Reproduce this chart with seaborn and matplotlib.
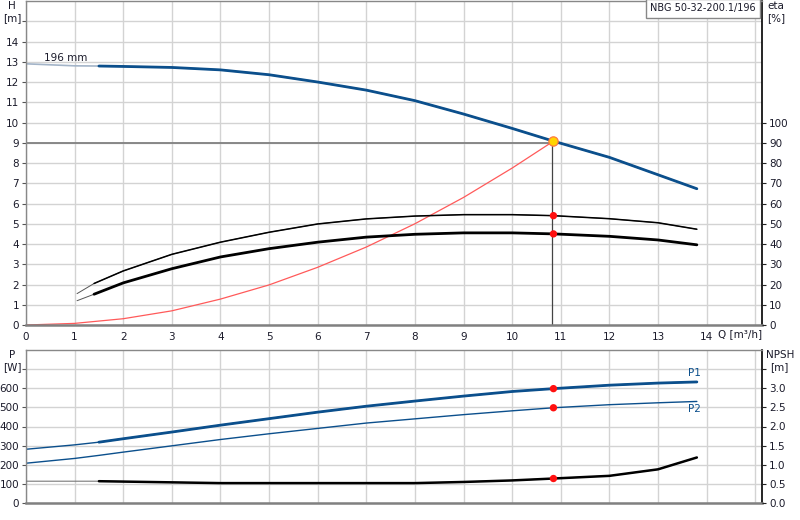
import matplotlib
matplotlib.use("Agg")
import matplotlib.pyplot as plt
import numpy as np
import seaborn as sns

# head curve H [m] over flow Q [m3/h]
h_q = [0, 1, 1.5, 2, 3, 4, 5, 6, 7, 8, 9, 10, 10.85, 12, 13, 13.8]
h_m = [12.9, 12.8, 12.79, 12.77, 12.72, 12.6, 12.36, 12.0, 11.6, 11.08, 10.42, 9.71, 9.08, 8.28, 7.42, 6.73]

# system curve (red)
sys_q = [0, 1, 2, 3, 4, 5, 6, 7, 8, 9, 10, 10.85]
sys_h = [0, 0.08, 0.31, 0.7, 1.28, 1.98, 2.85, 3.85, 5.0, 6.3, 7.75, 9.08]

# efficiencies [%]
eta_q = [1.05, 1.4, 2, 3, 4, 5, 6, 7, 8, 9, 10, 10.85, 12, 13, 13.8]
eta_pump = [15.5, 20.5, 26.7, 34.9, 40.9, 45.8, 49.9, 52.4, 53.8, 54.5, 54.5, 54.0, 52.5, 50.5, 47.3]
eta_total = [12.0, 15.2, 20.8, 27.8, 33.6, 37.7, 40.9, 43.4, 44.8, 45.5, 45.5, 45.0, 43.8, 42.0, 39.6]

# power [W]
p_q = [0, 1, 1.5, 2, 3, 4, 5, 6, 7, 8, 9, 10, 10.85, 12, 13, 13.8]
p1 = [281, 304, 318, 336, 371, 407, 441, 475, 506, 533, 559, 583, 598, 616, 627, 633]
p2 = [208, 233, 249, 266, 299, 332, 362, 390, 418, 440, 462, 482, 498, 514, 524, 531]

# NPSH [m]
npsh_q = [0, 1, 1.5, 2, 3, 4, 5, 6, 7, 8, 9, 10, 10.85, 12, 13, 13.8]
npsh_m = [0.57, 0.57, 0.57, 0.56, 0.54, 0.52, 0.52, 0.52, 0.52, 0.52, 0.55, 0.59, 0.64, 0.71, 0.88, 1.19]

# duty point
duty_q = 10.85
duty_h = 9.08
duty_eta = [54.0, 45.0]
duty_p = [598, 498]
duty_npsh = 0.64

EXTRAP_END = 1.5
BLUE = "#0b4f8c"
LIGHT_BLUE = "#a3b4c8"
GRID = "#d3d3d3"
TXT = "#1a1a2a"

sns.set_theme(style="whitegrid")
plt.rcParams["font.family"] = ["DejaVu Sans"]
plt.rcParams["font.size"] = 7.5

fig = plt.figure(figsize=(8, 5.2), dpi=100)
ax = fig.add_axes([26 / 800, 1 - 325 / 520, 736 / 800, 325 / 520 - 0.002])
ax2 = fig.add_axes([26 / 800, 17 / 520, 736 / 800, 153 / 520])

for a in (ax, ax2):
    a.set_facecolor("white")
    a.set_xlim(0, 15.14)
    a.set_xticks(range(0, 16))
    a.grid(True, color=GRID, lw=1.0)
    a.tick_params(axis="both", length=3, width=0.8, color="#555", labelsize=7.5,
                  labelcolor=TXT, pad=2, direction="out")
    for s in ("left", "top"):
        a.spines[s].set_color("#888")
        a.spines[s].set_linewidth(1.0)
    a.spines["bottom"].set_color("#808080")
    a.spines["bottom"].set_linewidth(1.8)
    a.spines["right"].set_color("black")
    a.spines["right"].set_linewidth(1.2)

# ---- upper: head / efficiency
ax.set_ylim(0, 16)
ax.set_yticks(range(0, 16))
ax.set_yticklabels([str(i) for i in range(0, 15)] + [""])
ax.set_xticklabels([str(i) for i in range(0, 15)] + [""])

h_q_arr = np.array(h_q)
h_arr = np.array(h_m)
sns.lineplot(x=h_q, y=h_m, ax=ax, color=LIGHT_BLUE, lw=1.2)
m = h_q_arr >= EXTRAP_END
sns.lineplot(x=h_q_arr[m], y=h_arr[m], ax=ax, color=BLUE, lw=2.0)
sns.lineplot(x=sys_q, y=sys_h, ax=ax, color="#ff5a5a", lw=0.9)

# duty point crosshair
ax.plot([0, duty_q], [9.0, 9.0], color="#808080", lw=1.3, zorder=1.5)
ax.plot([duty_q - 0.03, duty_q - 0.03], [0, duty_h], color="#444", lw=0.9, zorder=1.5)

ax.text(0.37, 13.2, "196 mm", fontsize=7.5, color=TXT, va="center")
ax.text(0.9915, 0.993, "NBG 50-32-200.1/196", transform=ax.transAxes, ha="right", va="top",
        fontsize=7, color=TXT,
        bbox=dict(boxstyle="square,pad=0.45", fc="white", ec="#888", lw=1.0), zorder=10)

axr = ax.twinx()
axr.set_ylim(0, 160)
axr.set_yticks(range(0, 101, 10))
axr.grid(False)
axr.tick_params(axis="y", length=3, width=0.8, color="#222", labelsize=7.5, labelcolor=TXT, pad=2)
for s in axr.spines.values():
    s.set_visible(False)

eq = np.array(eta_q)
ep = np.array(eta_pump)
et = np.array(eta_total)
sns.lineplot(x=eta_q, y=eta_pump, ax=axr, color="#555", lw=0.7)
sns.lineplot(x=eta_q, y=eta_total, ax=axr, color="#555", lw=0.7)
k = eq >= 1.4
sns.lineplot(x=eq[k], y=ep[k], ax=axr, color="black", lw=1.1)
sns.lineplot(x=eq[k], y=et[k], ax=axr, color="black", lw=2.0)
sns.scatterplot(x=[duty_q, duty_q], y=duty_eta, ax=axr, color="#ff1010", s=28,
                edgecolor="none", zorder=5)
sns.scatterplot(x=[duty_q], y=[duty_h * 10], ax=axr, color="#ffd400", s=45,
                edgecolor="#ff7a40", linewidth=0.9, zorder=6)
axr.set_xlim(0, 15.14)

# ---- lower: power / NPSH
ax2.set_ylim(0, 800)
ax2.set_yticks(range(0, 701, 100))
ax2.set_yticklabels([str(i) for i in range(0, 601, 100)] + [""])
ax2.tick_params(axis="x", labelbottom=False, length=0)

pq = np.array(p_q)
pm = pq >= EXTRAP_END
sns.lineplot(x=p_q, y=p1, ax=ax2, color=BLUE, lw=1.0)
sns.lineplot(x=pq[pm], y=np.array(p1)[pm], ax=ax2, color=BLUE, lw=2.0)
sns.lineplot(x=p_q, y=p2, ax=ax2, color=BLUE, lw=1.0)
sns.scatterplot(x=[duty_q, duty_q], y=duty_p, ax=ax2, color="#ff1010", s=28,
                edgecolor="none", zorder=5)
ax2.text(13.76, 680, "P1", color=BLUE, fontsize=7.5, ha="center", va="center")
ax2.text(13.76, 492, "P2", color=BLUE, fontsize=7.5, ha="center", va="center")

ax2r = ax2.twinx()
ax2r.set_ylim(0, 4)
ax2r.set_yticks(np.arange(0, 3.6, 0.5))
ax2r.set_yticklabels([f"{v:.1f}" for v in np.arange(0, 3.1, 0.5)] + [""])
ax2r.grid(False)
ax2r.tick_params(axis="y", length=3, width=0.8, color="#222", labelsize=7.5, labelcolor=TXT, pad=2)
for s in ax2r.spines.values():
    s.set_visible(False)
nq = np.array(npsh_q)
nm = nq >= EXTRAP_END
sns.lineplot(x=npsh_q, y=npsh_m, ax=ax2r, color="#777", lw=0.8)
sns.lineplot(x=nq[nm], y=np.array(npsh_m)[nm], ax=ax2r, color="black", lw=1.8)
sns.scatterplot(x=[duty_q], y=[duty_npsh], ax=ax2r, color="#ff1010", s=28,
                edgecolor="none", zorder=5)
ax2r.set_xlim(0, 15.14)

# axis unit labels
fig.text(12 / 800, 1 - 6 / 520, "H", ha="center", va="center", fontsize=7.5, color=TXT)
fig.text(12 / 800, 1 - 18 / 520, "[m]", ha="center", va="center", fontsize=7.5, color=TXT)
fig.text(776 / 800, 1 - 6 / 520, "eta", ha="center", va="center", fontsize=7.5, color=TXT)
fig.text(776 / 800, 1 - 18 / 520, "[%]", ha="center", va="center", fontsize=7.5, color=TXT)
fig.text(740 / 800, 1 - 334 / 520, "Q [m³/h]", ha="center", va="center", fontsize=7.5, color=TXT)
fig.text(12 / 800, 1 - 355 / 520, "P", ha="center", va="center", fontsize=7.5, color=TXT)
fig.text(12 / 800, 1 - 367 / 520, "[W]", ha="center", va="center", fontsize=7.5, color=TXT)
fig.text(780 / 800, 1 - 355 / 520, "NPSH", ha="center", va="center", fontsize=7.5, color=TXT)
fig.text(779 / 800, 1 - 367 / 520, "[m]", ha="center", va="center", fontsize=7.5, color=TXT)

fig.savefig("out.png", dpi=100, facecolor="white")
